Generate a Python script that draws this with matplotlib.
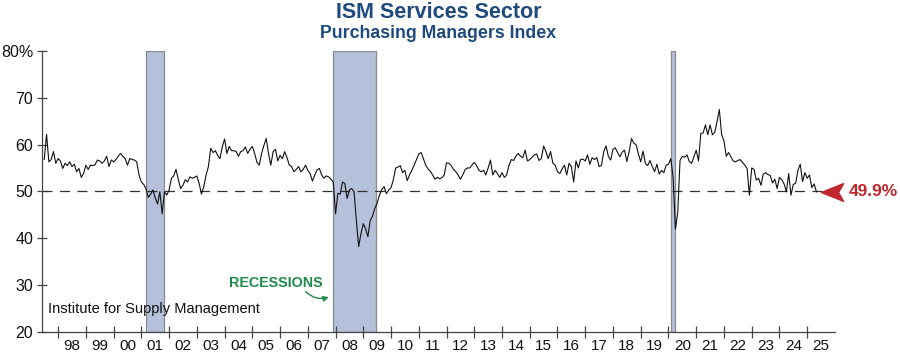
import matplotlib
matplotlib.use("Agg")
import matplotlib.pyplot as plt
from matplotlib import font_manager
from matplotlib.path import Path
from matplotlib.transforms import offset_copy
import numpy as np

# ---------------- data ----------------
start_year, start_month = 1997, 7
pmi_1997_2003 = [
    56.8, 62.2, 56.3, 56.8, 58.5, 56.0,
    57.0, 56.5, 54.9, 56.0, 55.5, 56.3, 55.3, 55.8, 54.2, 54.9, 53.0, 53.8,
    55.6, 54.7, 55.6, 55.5, 55.7, 56.7, 56.5, 56.0, 56.5, 57.5, 55.3, 56.7,
    56.3, 56.8, 57.5, 58.1, 57.5, 57.0, 55.6, 57.0, 56.8, 56.7, 56.3, 53.5,
    52.0, 51.5, 50.6, 48.7, 49.4, 50.3, 48.6, 47.3, 49.9, 45.2, 49.9, 49.2,
    50.3, 52.8, 53.3, 54.7, 52.5, 50.6, 51.3, 52.5, 52.0, 53.1, 52.8, 53.0,
    53.3, 51.7, 49.4, 51.0, 53.5, 55.3, 59.2, 58.3, 58.7, 57.7, 57.0, 59.5,
]
pmi_2004_2009 = [
    61.2, 58.1, 59.6, 58.7, 58.7, 58.5, 57.5, 58.5, 58.7, 59.5, 58.1, 59.0,
    59.6, 58.1, 56.2, 55.6, 58.1, 59.8, 61.3, 58.1, 55.6, 58.5, 59.0, 56.5,
    57.7, 57.0, 58.5, 57.2, 55.6, 55.3, 54.2, 54.7, 55.3, 54.2, 54.7, 55.6,
    54.5, 53.8, 52.2, 53.5, 54.6, 54.9, 53.5, 52.8, 53.3, 53.1, 52.6, 52.0,
    45.2, 49.6, 49.4, 52.0, 51.7, 48.5, 50.3, 50.6, 49.9, 43.8, 38.2, 41.0,
    43.1, 42.0, 40.3, 43.8, 44.7, 46.4, 47.5, 49.2, 50.4, 51.0, 49.5, 50.3,
]
pmi_2010_2016 = [
    50.8, 52.5, 55.0, 55.2, 55.5, 54.0, 54.5, 52.3, 53.5, 54.5, 55.6, 56.8,
    58.0, 58.3, 57.0, 55.6, 54.8, 54.3, 53.5, 52.6, 53.0, 52.7, 52.9, 53.5,
    56.1, 56.0, 55.5, 54.7, 54.2, 53.5, 52.6, 53.5, 54.6, 55.0, 55.0, 55.6,
    56.2, 55.5, 54.5, 54.2, 54.5, 53.5, 55.0, 56.7, 53.5, 54.5, 53.8, 53.0,
    54.0, 53.0, 53.5, 55.5, 56.8, 56.6, 57.5, 58.1, 57.5, 57.2, 58.8, 56.5,
    56.8, 57.3, 57.8, 58.0, 56.6, 57.0, 59.7, 58.5, 57.0, 58.5, 56.0, 55.6,
    54.2, 53.8, 54.8, 55.6, 53.5, 56.0, 55.3, 52.0, 56.5, 55.0, 56.8, 56.9,
]
pmi_2017_2025 = [
    56.5, 57.8, 55.8, 57.2, 56.8, 57.2, 55.3, 55.5, 58.5, 59.7, 57.5, 56.7,
    59.0, 59.3, 58.3, 57.4, 58.4, 58.8, 56.4, 58.5, 61.3, 60.3, 60.0, 58.0,
    56.3, 58.6, 56.0, 55.5, 56.6, 55.3, 54.2, 55.8, 53.7, 54.5, 54.0, 55.6,
    55.8, 57.0, 53.0, 41.9, 45.4, 56.6, 57.5, 57.3, 57.8, 56.4, 56.0, 57.4,
    58.8, 56.5, 62.4, 62.5, 64.2, 62.1, 64.2, 62.1, 62.6, 64.9, 67.5, 62.1,
    60.8, 57.5, 58.3, 57.4, 56.5, 56.3, 56.6, 56.8, 56.2, 55.6, 54.9, 49.2,
    55.0, 54.7, 52.4, 52.8, 51.3, 53.7, 54.0, 53.6, 53.4, 51.8, 52.6, 50.6,
    53.0, 52.5, 51.6, 49.9, 53.8, 49.2, 51.5, 51.7, 54.5, 55.8, 52.1, 54.0,
    52.8, 53.5, 50.8, 51.6, 49.9,
]
recession_starts = [2001.167, 2007.917, 2020.083]
recession_ends = [2001.833, 2009.458, 2020.25]
tick_years = list(range(1998, 2026))
year_labels = [f"{y % 100:02d}" for y in tick_years]
y_ticks = [20, 30, 40, 50, 60, 70, 80]
y_labels = ["20", "30", "40", "50", "60", "70", "80%"]
reference_level = 50

values = np.array(pmi_1997_2003 + pmi_2004_2009 + pmi_2010_2016 + pmi_2017_2025)
t = start_year + (start_month - 1) / 12 + np.arange(len(values)) / 12

# ---------------- fonts ----------------
names = {f.name for f in font_manager.fontManager.ttflist}
base = "Liberation Sans" if "Liberation Sans" in names else "DejaVu Sans"
narrow = "Liberation Sans Narrow" if "Liberation Sans Narrow" in names else base
plt.rcParams["font.family"] = [base, "DejaVu Sans"]

TITLE_BLUE = "#1f4a7e"
RED = "#c0282d"
GREEN = "#1e8a4c"
AX = "#444444"

fig = plt.figure(figsize=(9, 3.55), dpi=100)
ax = fig.add_axes([0.0467, 0.0656, 0.881, 0.7907])

for s, e in zip(recession_starts, recession_ends):
    ax.axvspan(s, e, facecolor="#b5c0da", edgecolor="#8a8a8a", linewidth=0.9, zorder=1)

ax.axhline(reference_level, color="#333333", lw=0.9, ls=(0, (8, 6)), zorder=2)
ax.plot(t, values, color="#111111", lw=0.8, zorder=3)

ax.set_xlim(1997.42, 2026.0)
ax.set_ylim(20, 80)

for sp in ("top", "right"):
    ax.spines[sp].set_visible(False)
for sp in ("left", "bottom"):
    ax.spines[sp].set_color(AX)
    ax.spines[sp].set_linewidth(0.9)

ax.set_yticks(y_ticks)
ax.set_yticklabels(y_labels)
ax.tick_params(axis="y", direction="inout", length=7, width=0.9, color=AX,
               labelsize=11.5, pad=3, labelcolor="#111111")
ax.set_xticks(tick_years)
ax.set_xticklabels([])
ax.set_xticks([y + 0.5 for y in tick_years], minor=True)
ax.set_xticklabels(year_labels, minor=True)
ax.tick_params(axis="x", which="major", direction="inout", length=8, width=0.9, color=AX)
ax.tick_params(axis="x", which="minor", length=0, labelsize=11, pad=5, labelcolor="#111111")

# titles
fig.text(0.4872, 0.964, "ISM Services Sector", ha="center", va="center",
         fontsize=15.5, fontweight="bold", color=TITLE_BLUE, family=[narrow, base])
fig.text(0.4872, 0.906, "Purchasing Managers Index", ha="center", va="center",
         fontsize=12.8, fontweight="bold", color=TITLE_BLUE, family=[narrow, base])

# source
ax.text(0.008, 0.055, "Institute for Supply Management", transform=ax.transAxes,
        ha="left", va="bottom", fontsize=10.5, color="#111111")

# recessions label
ax.text(2005.85, 30.4, "RECESSIONS", ha="center", va="center", fontsize=10.3,
        fontweight="bold", color=GREEN)
ax.annotate("", xy=(2007.85, 27.6), xytext=(2006.85, 29.0),
            arrowprops=dict(arrowstyle="-|>", color=GREEN, lw=1.0,
                            connectionstyle="arc3,rad=0.35", mutation_scale=8))

# last value marker: stealth arrow pointing left
arrow_path = Path([(-1.0, 0.0), (1.0, 0.8), (0.55, 0.0), (1.0, -0.8), (-1.0, 0.0)],
                  [Path.MOVETO, Path.LINETO, Path.LINETO, Path.LINETO, Path.CLOSEPOLY])
tr = offset_copy(ax.transData, fig=fig, x=16, y=0, units="dots")
ax.plot([t[-1]], [values[-1]], marker=arrow_path, markersize=16, color=RED,
        transform=tr, clip_on=False, zorder=5, linestyle="none")
ax.annotate(f"{values[-1]:.1f}%", xy=(t[-1], values[-1]), xytext=(23.5, 0),
            textcoords="offset points", ha="left", va="center", fontsize=12.5,
            fontweight="bold", color=RED, annotation_clip=False)

fig.savefig("out.png", dpi=100)
